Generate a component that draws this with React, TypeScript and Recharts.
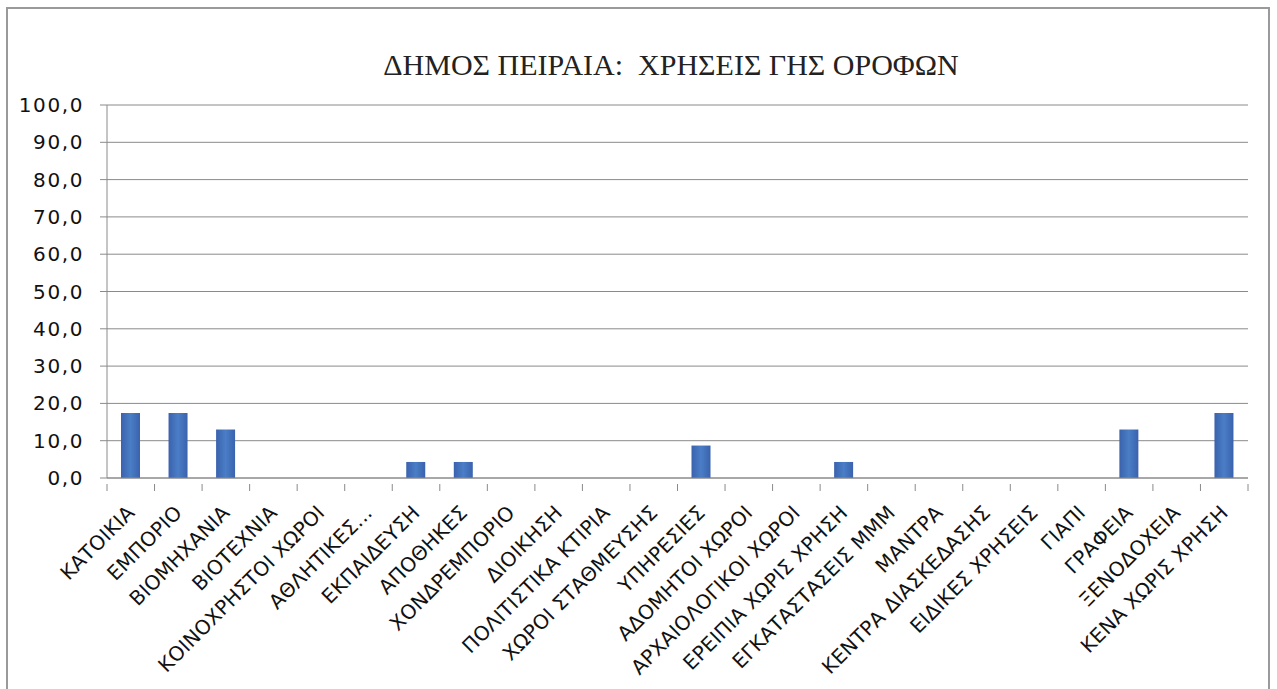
import React from "react";
import { BarChart, Bar, XAxis, YAxis, CartesianGrid } from "recharts";

const categories = [
  "ΚΑΤΟΙΚΙΑ",
  "ΕΜΠΟΡΙΟ",
  "ΒΙΟΜΗΧΑΝΙΑ",
  "ΒΙΟΤΕΧΝΙΑ",
  "ΚΟΙΝΟΧΡΗΣΤΟΙ ΧΩΡΟΙ",
  "ΑΘΛΗΤΙΚΕΣ...",
  "ΕΚΠΑΙΔΕΥΣΗ",
  "ΑΠΟΘΗΚΕΣ",
  "ΧΟΝΔΡΕΜΠΟΡΙΟ",
  "ΔΙΟΙΚΗΣΗ",
  "ΠΟΛΙΤΙΣΤΙΚΑ ΚΤΙΡΙΑ",
  "ΧΩΡΟΙ ΣΤΑΘΜΕΥΣΗΣ",
  "ΥΠΗΡΕΣΙΕΣ",
  "ΑΔΟΜΗΤΟΙ ΧΩΡΟΙ",
  "ΑΡΧΑΙΟΛΟΓΙΚΟΙ ΧΩΡΟΙ",
  "ΕΡΕΙΠΙΑ ΧΩΡΙΣ ΧΡΗΣΗ",
  "ΕΓΚΑΤΑΣΤΑΣΕΙΣ ΜΜΜ",
  "ΜΑΝΤΡΑ",
  "ΚΕΝΤΡΑ ΔΙΑΣΚΕΔΑΣΗΣ",
  "ΕΙΔΙΚΕΣ ΧΡΗΣΕΙΣ",
  "ΓΙΑΠΙ",
  "ΓΡΑΦΕΙΑ",
  "ΞΕΝΟΔΟΧΕΙΑ",
  "ΚΕΝΑ ΧΩΡΙΣ ΧΡΗΣΗ",
];

const values = [
  17.4, 17.4, 13.0, 0, 0, 0, 4.3, 4.3, 0, 0, 0, 0, 8.7, 0, 0, 4.3, 0, 0, 0, 0, 0, 13.0, 0, 17.4,
];

const yTicks = [0, 10, 20, 30, 40, 50, 60, 70, 80, 90, 100];

const title = "ΔΗΜΟΣ ΠΕΙΡΑΙΑ:  ΧΡΗΣΕΙΣ ΓΗΣ ΟΡΟΦΩΝ";

const data = categories.map((c, i) => ({ name: c, value: values[i] }));

const W = 1277;
const H = 689;
const M = { top: 105, right: 29, bottom: 31, left: 47 };
const Y_W = 60;
const X_H = 180;
const PLOT_W = W - M.left - Y_W - M.right;
const BAND = PLOT_W / categories.length;

const FONT = "'DejaVu Sans', 'Open Sans', sans-serif";

const XTick = (props: any) => {
  const { x, y, payload, index } = props;
  const axisY = y;
  const left = x - BAND / 2;
  const right = x + BAND / 2;
  const ax = x + 5;
  const ay = axisY + 30;
  return (
    <g>
      <line x1={left} y1={axisY} x2={left} y2={axisY + 7} stroke="#8a8a8a" strokeWidth={1} />
      {index === categories.length - 1 && (
        <line x1={right} y1={axisY} x2={right} y2={axisY + 7} stroke="#8a8a8a" strokeWidth={1} />
      )}
      <text
        x={ax}
        y={ay}
        textAnchor="end"
        transform={`rotate(-45, ${ax}, ${ay})`}
        fontFamily={FONT}
        fontSize={20}
        letterSpacing={0.2}
        fill="#111"
      >
        {payload.value}
      </text>
    </g>
  );
};

const YTick = (props: any) => {
  const { x, y, payload } = props;
  return (
    <text x={x} y={y} dy={7} textAnchor="end" fontFamily={FONT} fontSize={20} letterSpacing={1.6} fill="#111">
      {payload.value.toFixed(1).replace(".", ",")}
    </text>
  );
};

export default function App() {
  return (
    <div style={{ position: "absolute", left: 0, top: 0, width: W, height: H, background: "#fff", overflow: "hidden" }}>
      <div
        style={{
          position: "absolute",
          left: 6,
          top: 7,
          width: 1264,
          height: 700,
          border: "2px solid #9a9a9a",
          boxSizing: "border-box",
        }}
      />
      <div
        style={{
          position: "absolute",
          left: 0,
          top: 47,
          width: 1342,
          textAlign: "center",
          fontFamily: "'Liberation Serif', 'DejaVu Serif', serif",
          fontSize: 30,
          lineHeight: "36px",
          color: "#222",
          whiteSpace: "pre",
        }}
      >
        {title}
      </div>
      <div style={{ position: "absolute", left: 0, top: 0 }}>
        <BarChart width={W} height={H} data={data} margin={M} barSize={19}>
          <defs>
            <linearGradient id="barGrad" x1="0" y1="0" x2="1" y2="0">
              <stop offset="0%" stopColor="#3a62ad" />
              <stop offset="50%" stopColor="#4a7ec6" />
              <stop offset="100%" stopColor="#3a62ad" />
            </linearGradient>
          </defs>
          <CartesianGrid vertical={false} stroke="#8a8a8a" strokeWidth={1} />
          <XAxis
            dataKey="name"
            interval={0}
            height={X_H}
            tickLine={false}
            axisLine={{ stroke: "#8a8a8a" }}
            tick={<XTick />}
            tickMargin={0}
          />
          <YAxis
            width={Y_W}
            domain={[0, 100]}
            ticks={yTicks}
            interval={0}
            tickSize={7}
            tickMargin={16}
            tickLine={{ stroke: "#8a8a8a" }}
            axisLine={{ stroke: "#8a8a8a" }}
            tick={<YTick />}
          />
          <Bar dataKey="value" fill="url(#barGrad)" isAnimationActive={false} />
        </BarChart>
      </div>
    </div>
  );
}
